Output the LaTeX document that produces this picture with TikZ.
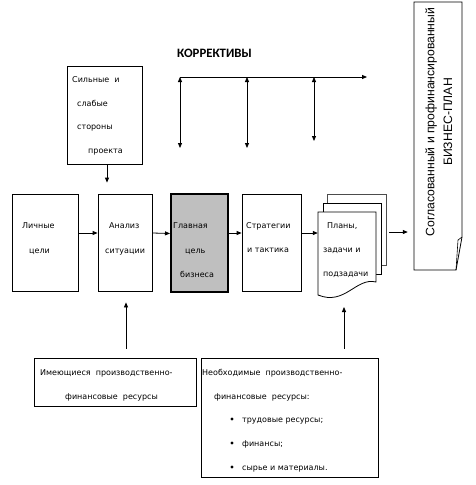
\documentclass[tikz,border=0pt]{standalone}
\usepackage{fontspec}
\setmainfont{Liberation Sans}
\newfontfamily\boxfont{DejaVu Sans}
\newfontfamily\headfont{Carlito}
\usetikzlibrary{arrows.meta}

\tikzset{
  blk/.style={draw, line width=0.8pt, minimum width=#1, inner sep=0pt},
  txt/.style={anchor=base west, inner sep=0pt, font=\boxfont\fontsize{8}{9}\selectfont},
  arr/.style={-{Triangle[length=5pt,width=4pt]}, line width=0.8pt},
  darr/.style={{Triangle[length=5pt,width=4pt]}-{Triangle[length=5pt,width=4pt]}, line width=0.8pt},
  page/.style={draw, fill=white, line width=0.8pt}
}

\begin{document}
\begin{tikzpicture}[x=1pt,y=-1pt]
    \useasboundingbox (0,0) rectangle (475,485);
    % boxes
    \node[blk=75pt, minimum height=98pt] (strong) at (104.5,115) {};
    \node[blk=66pt, minimum height=97pt] (personal) at (45,242.5) {};
    \node[blk=54pt, minimum height=97pt] (analysis) at (125,242.5) {};
    \node[blk=57pt, minimum height=98pt, fill=black!25, line width=2pt] (goal) at (199.5,243) {};
    \node[blk=59pt, minimum height=97pt] (strategy) at (271.5,242.5) {};
    \node[blk=162pt, minimum height=48pt] (have) at (115,382) {};
    \node[blk=177pt, minimum height=119pt] (need) at (289.5,417.5) {};
    % pages
    \draw[page, draw=black!70] (327,194) rectangle (386,265);
    \draw[page] (323,203) rectangle (381,274);
    \draw[page] (318,212) -- (376,212) -- (376,282)
        .. controls (356,277) and (345,306) .. (318,295) -- cycle;
    \node[minimum width=58pt, minimum height=83pt, inner sep=0pt] (docs) at (347,253.5) {};
    % business plan
    \draw[line width=0.8pt] (414,2) -- (462,2) -- (462,237) -- (456,270) -- (414,270) -- cycle;
    \draw[line width=0.6pt] (462,237) -- (458,240) -- (456,270);
    \node[minimum width=48pt, minimum height=268pt, inner sep=0pt] (plan) at (438,136) {};
    \node[rotate=90, font=\fontsize{12.2}{14}\selectfont] (plan1) at (431,122) {Согласованный и профинансированный};
    \node[rotate=90, font=\fontsize{12.2}{14}\selectfont] (plan2) at (448,122) {БИЗНЕС-ПЛАН};
    % texts
    \node[font=\headfont\bfseries\fontsize{12.8}{14}\selectfont] (korr) at (214.5,53) {КОРРЕКТИВЫ};
    \foreach \t/\x/\y [count=\i] in {Сильные\ \ и/72/79, слабые/77/103, стороны/77/126, проекта/88/150,
        Личные/22/225, цели/29/250, Анализ/109/225, ситуации/105/250,
        Главная/173/225, цель/185/250, бизнеса/180/274,
        Стратегии/246/225, и тактика/247/249,
        {Планы,}/327/225, задачи и/323/249, подзадачи/323/273,
        Имеющиеся\ \ производственно-/40/372, финансовые\ \ ресурсы/65/396,
        Необходимые\ \ производственно-/202/372, финансовые\ \ ресурсы:/214/396,
        трудовые ресурсы;/242/419, финансы;/242/443, сырье и материалы./242/467}
      \node[txt] (t\i) at (\x,\y+3) {\t};
    \foreach \y [count=\i] in {419,443,467}
      \fill (232,\y) circle (1.6pt);
    % connectors
    \draw[arr] ([yshift=9.5pt]personal.east) -- ([yshift=9.5pt]analysis.west);
    \draw[arr] ([yshift=9.5pt]analysis.east) -- ([yshift=9.5pt]goal.west);
    \draw[arr] ([yshift=10pt]goal.east) -- ([yshift=9.5pt]strategy.west);
    \draw[arr] ([yshift=9.5pt]strategy.east) -- (docs.west |- 0,233);
    \draw[arr, shorten <=13pt, shorten >=6pt] (docs.east |- 0,232) -- (plan.west |- 0,232);
    \draw[arr, shorten >=11pt] ([xshift=2.5pt]strong.south) -- (analysis.north -| 107,0);
    \draw[arr, shorten <=9pt, shorten >=11pt] ([xshift=11pt]have.north) -- (analysis.south -| 126,0);
    \coordinate (docsin) at (344,307);
    \draw[arr, shorten <=9pt] ([xshift=54.5pt]need.north) -- (docsin);
    % korrektivy
    \coordinate (k0) at (180,77);
    \coordinate (k1) at (367,77);
    \draw[arr] (k0) -- (k1);
    \foreach \x/\y in {180/148, 247/148, 314/141}
      \draw[darr] (\x,77) -- (\x,\y);
\end{tikzpicture}
\end{document}
